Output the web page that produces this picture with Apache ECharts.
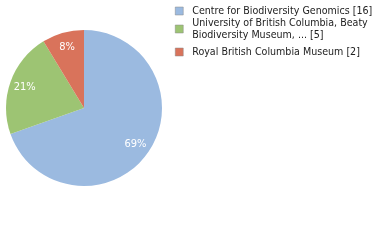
<!DOCTYPE html>
<html>
<head>
<meta charset="utf-8">
<script src="https://cdn.jsdelivr.net/npm/echarts@6/dist/echarts.min.js"></script>
<style>
html,body{margin:0;padding:0;background:#fff;}
#main{width:380px;height:240px;}
</style>
</head>
<body>
<div id="main"></div>
<script>
var names = ['Centre for Biodiversity Genomics [16]',
             'University of British Columbia, Beaty\nBiodiversity Museum, ... [5]',
             'Royal British Columbia Museum [2]'];
var values = [16, 5, 2];
var colors = ['#9bbae0', '#9dc473', '#d9735b'];

var total = values.reduce(function(a, b){ return a + b; }, 0);
var pieData = names.map(function(n, i){
	return {name: n, value: values[i], itemStyle: {color: colors[i]}};
});
var font = 'DejaVu Sans Condensed';

function legendAt(i, top){
	return {
		orient: 'vertical', left: 175, top: top,
		itemWidth: 8, itemHeight: 8, itemGap: 0, padding: 0,
		icon: 'rect',
		itemStyle: {borderColor: '#888', borderWidth: 0.5},
		textStyle: {fontFamily: font, fontSize: 10.6, color: '#222', lineHeight: 12, padding: [0,0,0,4]},
		data: [names[i]]
	};
}

var myChart = echarts.init(document.getElementById('main'));
myChart.setOption({
	animation: false,
	legend: [legendAt(0, 5), legendAt(1, 17), legendAt(2, 46)],
	series: [
		{
			type: 'pie', center: [84, 108], radius: [0, 78],
			startAngle: 90, clockwise: true,
			label: {show: false}, labelLine: {show: false},
			data: pieData
		},
		{
			type: 'pie', center: [84, 108], radius: [42, 78],
			startAngle: 90, clockwise: true, silent: true,
			legendHoverLink: false,
			itemStyle: {color: 'rgba(0,0,0,0)'},
			label: {
				show: true, position: 'inside', color: '#fff',
				fontFamily: font, fontSize: 11,
				formatter: function(p){ return Math.floor(p.value / total * 100) + '%'; }
			},
			labelLine: {show: false},
			data: values.map(function(v, i){ return {name: 'lbl' + i, value: v}; })
		}
	]
});
</script>
</body>
</html>
